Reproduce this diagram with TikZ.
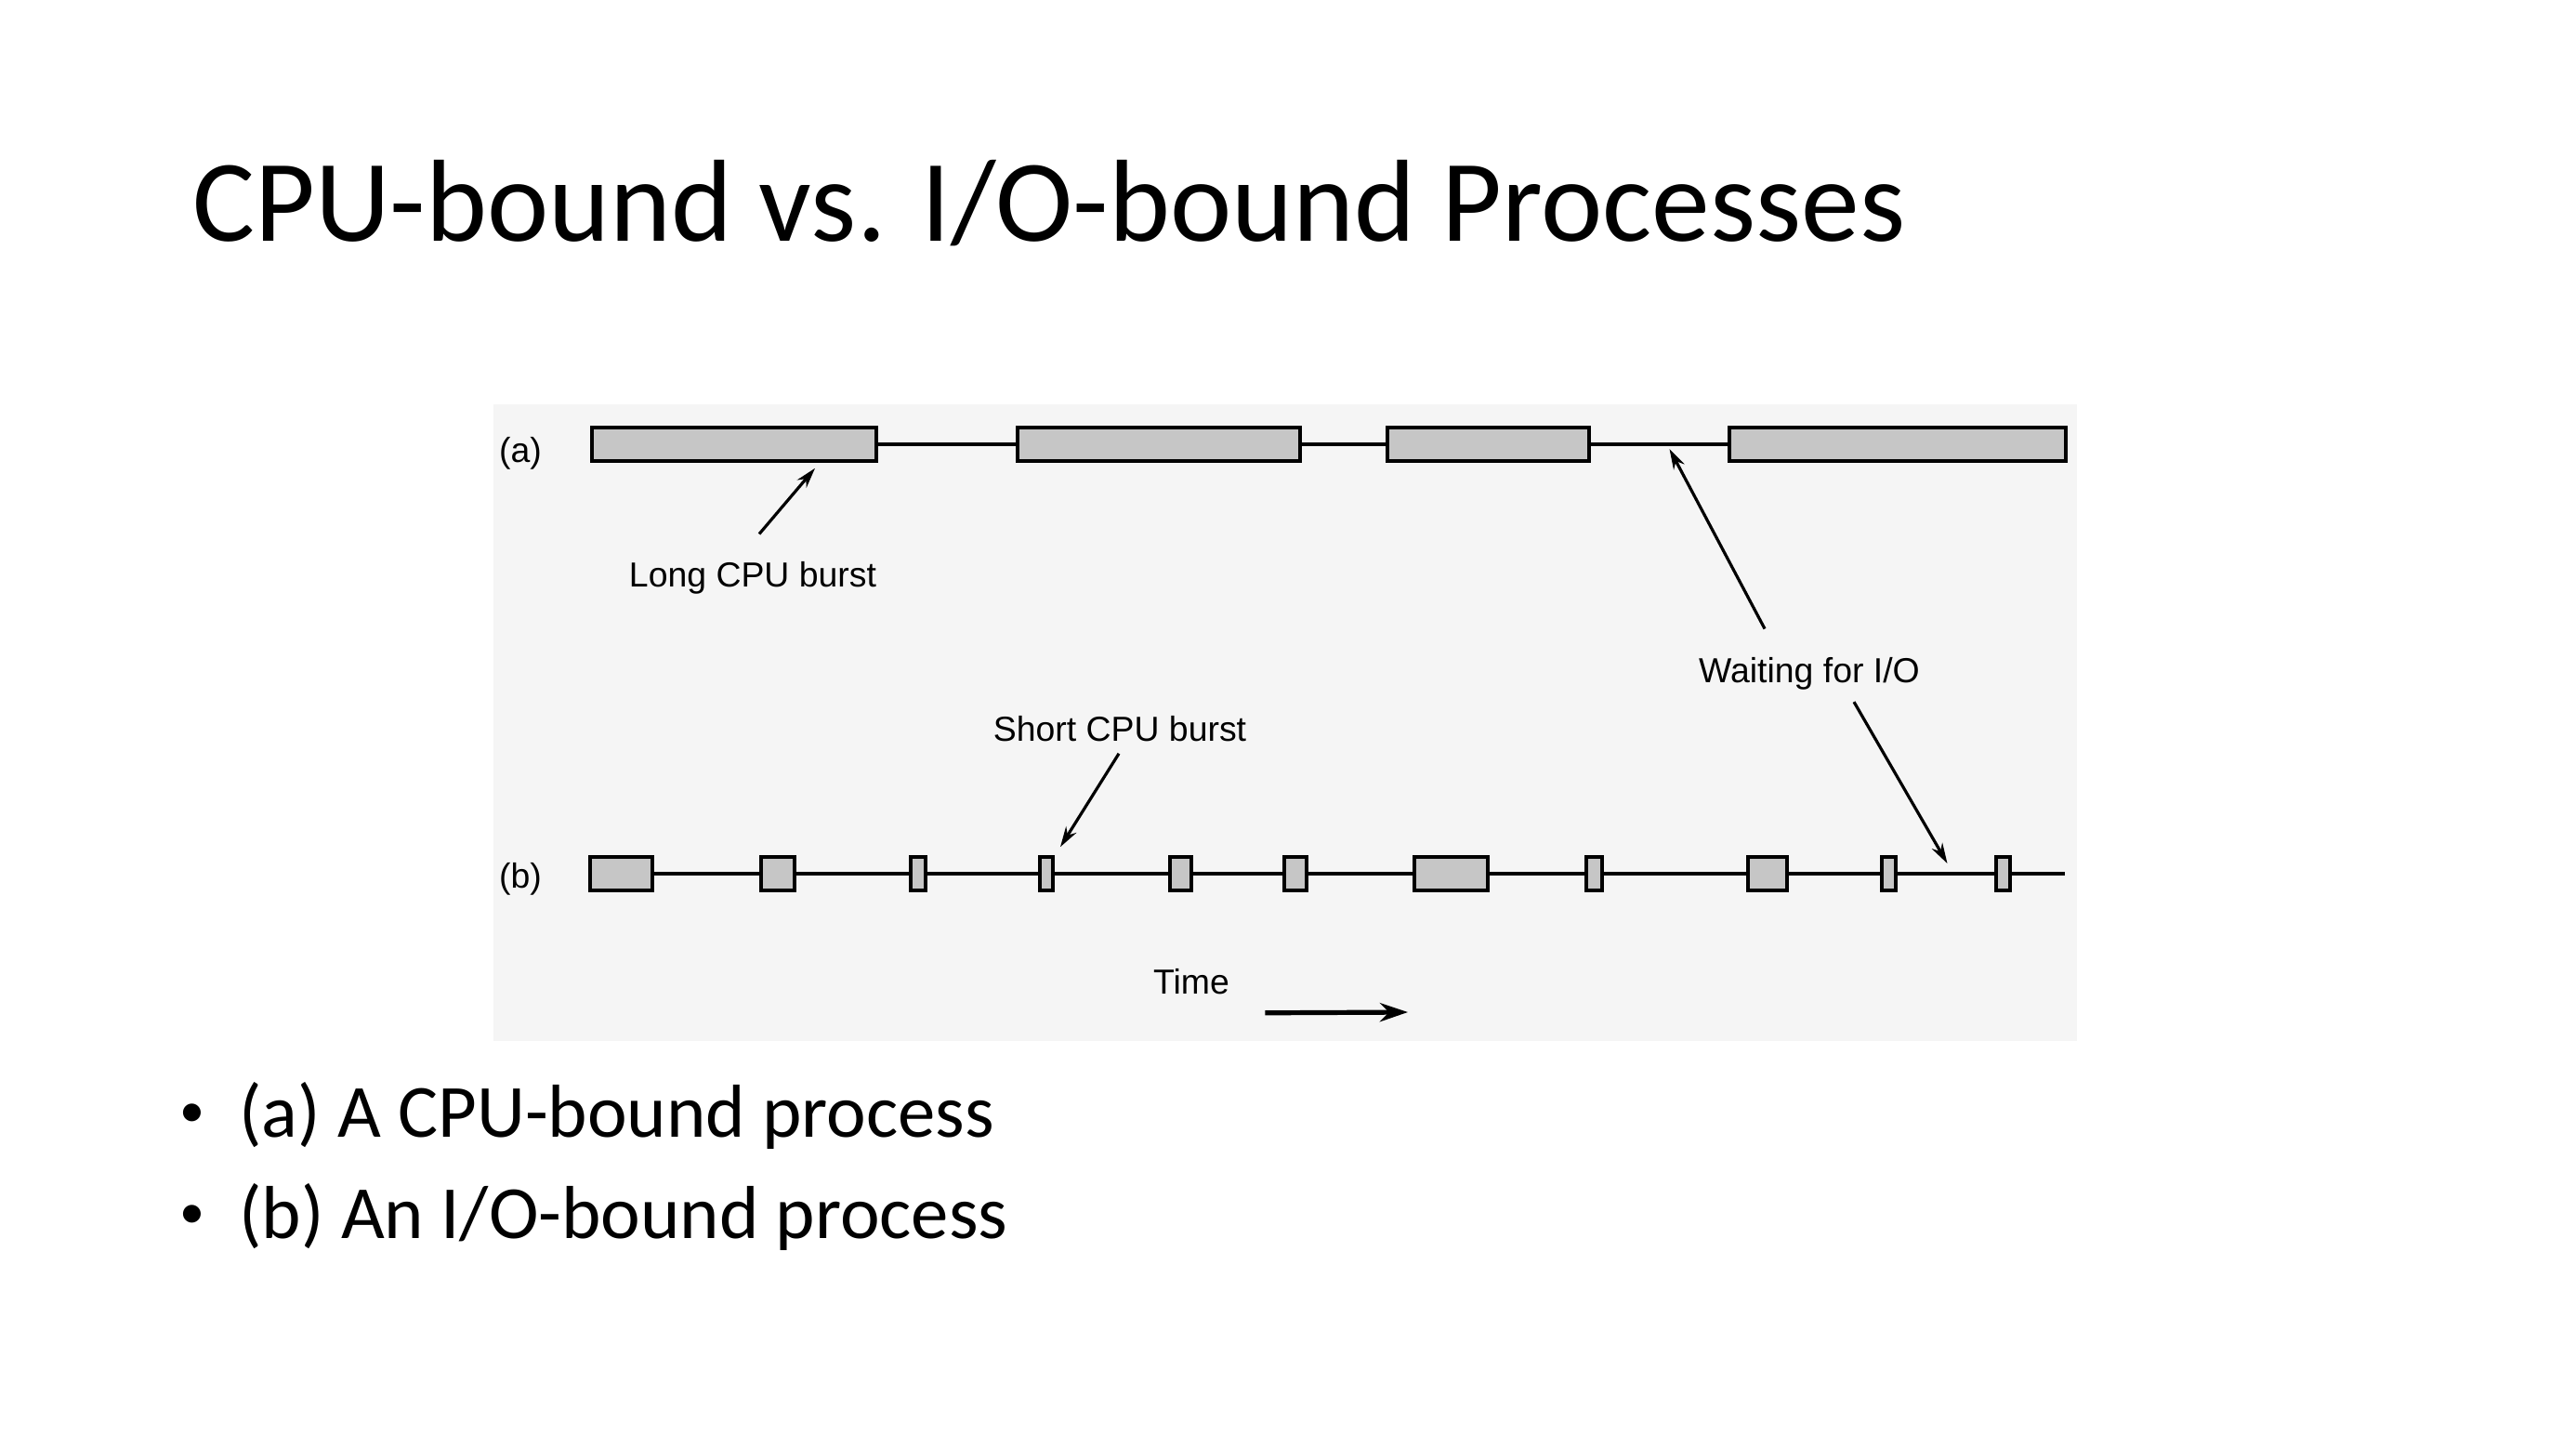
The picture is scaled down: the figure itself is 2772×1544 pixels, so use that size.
\documentclass[tikz,border=0pt]{standalone}
\usepackage{fontspec}
\setmainfont{Carlito}
\newfontfamily\figfont{Liberation Sans}
\usepackage{xcolor}
\definecolor{panel}{HTML}{F5F5F5}
\definecolor{burst}{HTML}{C6C6C6}
\usepackage{tikz}
\usetikzlibrary{arrows.meta}

\begin{document}
\begin{tikzpicture}[x=0.5pt,y=-0.5pt,
    cpu/.style={rectangle,draw=black,fill=burst,line width=2pt,
      inner sep=0pt,minimum height=17.8pt},
    idle/.style={draw=black,line width=1.8pt},
    lbl/.style={font=\figfont\fontsize{18.7}{22}\selectfont,inner sep=0pt,anchor=base},
    ptr/.style={draw=black,line width=1.6pt,-{Stealth[length=11pt,width=6.5pt]}},
    dot/.style={anchor=base west,inner sep=0pt,font=\fontsize{27}{32}\selectfont},
    item/.style={anchor=base west,inner sep=0pt,font=\fontsize{40.4}{48}\selectfont}]
    \useasboundingbox (0,0) rectangle (2772,1544);
    \fill[panel] (531,435) rectangle (2235,1120);
    \node[anchor=base west,inner sep=0pt,font=\fontsize{62.8}{75}\selectfont] (title)
      at (207,259) {CPU-bound vs. I/O-bound Processes};
    \foreach \cx/\w [count=\i] in {790/306,1247/304,1601/217,2042/362}
      \node[cpu,minimum width={\w*0.5pt}] (a\i) at (\cx,478) {};
    \foreach \i/\j in {1/2,2/3,3/4}
      \draw[idle] (a\i) -- (a\j);
    \foreach \cx/\w [count=\i] in {668/67,837/36,988/16,1126/14,1270/23,1394/24,
        1561/79,1715/17,1902/42,2032/15,2155/15}
      \node[cpu,minimum width={\w*0.5pt}] (b\i) at (\cx,940) {};
    \coordinate (bend) at (2222,940);
    \foreach \i [evaluate=\i as \j using int(\i+1)] in {1,...,10}
      \draw[idle] (b\i) -- (b\j);
    \draw[idle] (b11) -- (bend);
    \node[lbl] (atag) at (560,497) {(a)};
    \node[lbl] (btag) at (560,955) {(b)};
    \node[lbl] (long) at (810,631) {Long CPU burst};
    \node[lbl] (short) at (1205,797) {Short CPU burst};
    \node[lbl] (waitio) at (1947,734) {Waiting for I/O};
    \node[lbl] (time) at (1282,1069) {Time};
    \draw[ptr] ([shift={(7,-29)}]long.north) -- ([shift={(87,6)}]a1.south);
    \draw[ptr] ([shift={(-48,-30)}]waitio.north) -- ([shift={(85,5)}]a3.east);
    \draw[ptr] ([shift={(48,13)}]waitio.south) -- ([shift={(54,-11)}]b10.east);
    \draw[ptr] ([shift={(-1,13)}]short.south) -- ([shift={(15,-9)}]b4.north);
    \coordinate (tend) at (1515,1089);
    \draw[draw=black,line width=2.6pt,-{Stealth[length=15pt,width=10pt]}]
      ([shift={(38,20)}]time.south east) -- (tend);
    \node[dot] (dota) at (193,1212) {•};
    \node[item] (cpub) at (257,1223) {(a) A CPU-bound process};
    \node[dot] (dotb) at (193,1321) {•};
    \node[item] (iob) at (257,1332) {(b) An I/O-bound process};
  \end{tikzpicture}
\end{document}
